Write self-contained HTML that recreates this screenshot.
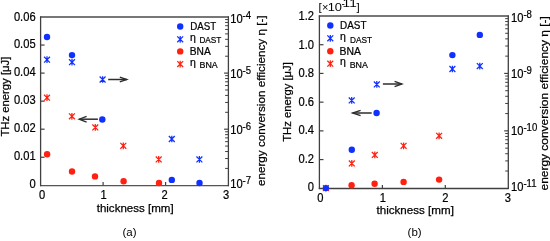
<!DOCTYPE html><html><head><meta charset="utf-8"><style>html,body{margin:0;padding:0;background:#fff;}svg{display:block;will-change:transform;}text{font-family:"Liberation Sans", sans-serif;fill:#000;} .t{stroke:#000;stroke-width:0.22px;}</style></head><body>
<svg width="550" height="241" viewBox="0 0 550 241">
<path d="M40.0,17.0L229.0,17.0" stroke="#4a4a4a" stroke-width="1.3"/>
<path d="M40.0,185.6L229.0,185.6" stroke="#555" stroke-width="1.3"/>
<path d="M40.6,16.4L40.6,186.2" stroke="#404040" stroke-width="1.3"/>
<path d="M228.4,16.4L228.4,186.2" stroke="#404040" stroke-width="1.3"/>
<text transform="translate(35.60,21.00) scale(0.93,1)" text-anchor="end" font-size="12.0" class="t">0.06</text>
<path d="M40.6,45.05L44.60,45.05" stroke="#404040" stroke-width="1.2"/>
<text transform="translate(35.60,48.00) scale(0.93,1)" text-anchor="end" font-size="12.0" class="t">0.05</text>
<path d="M40.6,73.10L44.60,73.10" stroke="#404040" stroke-width="1.2"/>
<text transform="translate(35.60,76.00) scale(0.93,1)" text-anchor="end" font-size="12.0" class="t">0.04</text>
<path d="M40.6,101.15L44.60,101.15" stroke="#404040" stroke-width="1.2"/>
<text transform="translate(35.60,104.00) scale(0.93,1)" text-anchor="end" font-size="12.0" class="t">0.03</text>
<path d="M40.6,129.20L44.60,129.20" stroke="#404040" stroke-width="1.2"/>
<text transform="translate(35.60,132.00) scale(0.93,1)" text-anchor="end" font-size="12.0" class="t">0.02</text>
<path d="M40.6,157.25L44.60,157.25" stroke="#404040" stroke-width="1.2"/>
<text transform="translate(35.60,160.00) scale(0.93,1)" text-anchor="end" font-size="12.0" class="t">0.01</text>
<text transform="translate(35.60,188.00) scale(0.93,1)" text-anchor="end" font-size="12.0" class="t">0</text>
<text transform="translate(42.20,199.00) scale(0.93,1)" text-anchor="middle" font-size="12.0" class="t">0</text>
<path d="M103.10,185.3L103.10,182.10" stroke="#404040" stroke-width="1.2"/>
<text transform="translate(103.50,199.00) scale(0.93,1)" text-anchor="middle" font-size="12.0" class="t">1</text>
<path d="M165.60,185.3L165.60,182.10" stroke="#404040" stroke-width="1.2"/>
<text transform="translate(164.50,199.00) scale(0.93,1)" text-anchor="middle" font-size="12.0" class="t">2</text>
<text transform="translate(226.15,199.00) scale(0.93,1)" text-anchor="middle" font-size="12.0" class="t">3</text>
<path d="M225.10,168.41L228.1,168.41" stroke="#404040" stroke-width="1.0"/>
<path d="M225.10,158.53L228.1,158.53" stroke="#404040" stroke-width="1.0"/>
<path d="M225.10,151.52L228.1,151.52" stroke="#404040" stroke-width="1.0"/>
<path d="M225.10,146.09L228.1,146.09" stroke="#404040" stroke-width="1.0"/>
<path d="M225.10,141.65L228.1,141.65" stroke="#404040" stroke-width="1.0"/>
<path d="M225.10,137.89L228.1,137.89" stroke="#404040" stroke-width="1.0"/>
<path d="M225.10,134.64L228.1,134.64" stroke="#404040" stroke-width="1.0"/>
<path d="M225.10,131.77L228.1,131.77" stroke="#404040" stroke-width="1.0"/>
<path d="M225.10,112.31L228.1,112.31" stroke="#404040" stroke-width="1.0"/>
<path d="M225.10,102.43L228.1,102.43" stroke="#404040" stroke-width="1.0"/>
<path d="M225.10,95.42L228.1,95.42" stroke="#404040" stroke-width="1.0"/>
<path d="M225.10,89.99L228.1,89.99" stroke="#404040" stroke-width="1.0"/>
<path d="M225.10,85.55L228.1,85.55" stroke="#404040" stroke-width="1.0"/>
<path d="M225.10,81.79L228.1,81.79" stroke="#404040" stroke-width="1.0"/>
<path d="M225.10,78.54L228.1,78.54" stroke="#404040" stroke-width="1.0"/>
<path d="M225.10,75.67L228.1,75.67" stroke="#404040" stroke-width="1.0"/>
<path d="M224.10,129.20L228.1,129.20" stroke="#404040" stroke-width="1.2"/>
<path d="M225.10,56.21L228.1,56.21" stroke="#404040" stroke-width="1.0"/>
<path d="M225.10,46.33L228.1,46.33" stroke="#404040" stroke-width="1.0"/>
<path d="M225.10,39.32L228.1,39.32" stroke="#404040" stroke-width="1.0"/>
<path d="M225.10,33.89L228.1,33.89" stroke="#404040" stroke-width="1.0"/>
<path d="M225.10,29.45L228.1,29.45" stroke="#404040" stroke-width="1.0"/>
<path d="M225.10,25.69L228.1,25.69" stroke="#404040" stroke-width="1.0"/>
<path d="M225.10,22.44L228.1,22.44" stroke="#404040" stroke-width="1.0"/>
<path d="M225.10,19.57L228.1,19.57" stroke="#404040" stroke-width="1.0"/>
<path d="M224.10,73.10L228.1,73.10" stroke="#404040" stroke-width="1.2"/>
<text transform="translate(230.20,23.00) scale(0.93,1)" font-size="12.0" class="t">10<tspan font-size="10.3" dy="-4.5">-4</tspan></text>
<text transform="translate(230.20,78.00) scale(0.93,1)" font-size="12.0" class="t">10<tspan font-size="10.3" dy="-4.5">-5</tspan></text>
<text transform="translate(230.20,134.00) scale(0.93,1)" font-size="12.0" class="t">10<tspan font-size="10.3" dy="-4.5">-6</tspan></text>
<text transform="translate(230.20,188.00) scale(0.93,1)" font-size="12.0" class="t">10<tspan font-size="10.3" dy="-4.5">-7</tspan></text>
<path d="M318.79999999999995,16.0L508.90000000000003,16.0" stroke="#4a4a4a" stroke-width="1.3"/>
<path d="M318.79999999999995,188.5L508.90000000000003,188.5" stroke="#404040" stroke-width="1.3"/>
<path d="M319.4,15.4L319.4,189.1" stroke="#404040" stroke-width="1.3"/>
<path d="M508.3,15.4L508.3,189.1" stroke="#404040" stroke-width="1.3"/>
<text transform="translate(314.00,20.00) scale(0.93,1)" text-anchor="end" font-size="12.0" class="t">1.2</text>
<path d="M319.5,44.72L323.50,44.72" stroke="#404040" stroke-width="1.2"/>
<text transform="translate(314.00,49.00) scale(0.93,1)" text-anchor="end" font-size="12.0" class="t">1.0</text>
<path d="M319.5,73.43L323.50,73.43" stroke="#404040" stroke-width="1.2"/>
<text transform="translate(314.00,77.00) scale(0.93,1)" text-anchor="end" font-size="12.0" class="t">0.8</text>
<path d="M319.5,102.15L323.50,102.15" stroke="#404040" stroke-width="1.2"/>
<text transform="translate(314.00,106.00) scale(0.93,1)" text-anchor="end" font-size="12.0" class="t">0.6</text>
<path d="M319.5,130.87L323.50,130.87" stroke="#404040" stroke-width="1.2"/>
<text transform="translate(314.00,134.00) scale(0.93,1)" text-anchor="end" font-size="12.0" class="t">0.4</text>
<path d="M319.5,159.58L323.50,159.58" stroke="#404040" stroke-width="1.2"/>
<text transform="translate(314.00,163.00) scale(0.93,1)" text-anchor="end" font-size="12.0" class="t">0.2</text>
<text transform="translate(314.00,191.00) scale(0.93,1)" text-anchor="end" font-size="12.0" class="t">0</text>
<text transform="translate(320.30,202.00) scale(0.93,1)" text-anchor="middle" font-size="12.0" class="t">0</text>
<path d="M382.40,188.3L382.40,185.10" stroke="#404040" stroke-width="1.2"/>
<text transform="translate(382.90,202.00) scale(0.93,1)" text-anchor="middle" font-size="12.0" class="t">1</text>
<path d="M445.30,188.3L445.30,185.10" stroke="#404040" stroke-width="1.2"/>
<text transform="translate(445.40,202.00) scale(0.93,1)" text-anchor="middle" font-size="12.0" class="t">2</text>
<text transform="translate(507.95,202.00) scale(0.93,1)" text-anchor="middle" font-size="12.0" class="t">3</text>
<path d="M505.20,171.01L508.2,171.01" stroke="#404040" stroke-width="1.0"/>
<path d="M505.20,160.90L508.2,160.90" stroke="#404040" stroke-width="1.0"/>
<path d="M505.20,153.72L508.2,153.72" stroke="#404040" stroke-width="1.0"/>
<path d="M505.20,148.16L508.2,148.16" stroke="#404040" stroke-width="1.0"/>
<path d="M505.20,143.61L508.2,143.61" stroke="#404040" stroke-width="1.0"/>
<path d="M505.20,139.76L508.2,139.76" stroke="#404040" stroke-width="1.0"/>
<path d="M505.20,136.43L508.2,136.43" stroke="#404040" stroke-width="1.0"/>
<path d="M505.20,133.49L508.2,133.49" stroke="#404040" stroke-width="1.0"/>
<path d="M505.20,113.58L508.2,113.58" stroke="#404040" stroke-width="1.0"/>
<path d="M505.20,103.46L508.2,103.46" stroke="#404040" stroke-width="1.0"/>
<path d="M505.20,96.29L508.2,96.29" stroke="#404040" stroke-width="1.0"/>
<path d="M505.20,90.72L508.2,90.72" stroke="#404040" stroke-width="1.0"/>
<path d="M505.20,86.17L508.2,86.17" stroke="#404040" stroke-width="1.0"/>
<path d="M505.20,82.33L508.2,82.33" stroke="#404040" stroke-width="1.0"/>
<path d="M505.20,79.00L508.2,79.00" stroke="#404040" stroke-width="1.0"/>
<path d="M505.20,76.06L508.2,76.06" stroke="#404040" stroke-width="1.0"/>
<path d="M504.20,130.87L508.2,130.87" stroke="#404040" stroke-width="1.2"/>
<path d="M505.20,56.14L508.2,56.14" stroke="#404040" stroke-width="1.0"/>
<path d="M505.20,46.03L508.2,46.03" stroke="#404040" stroke-width="1.0"/>
<path d="M505.20,38.86L508.2,38.86" stroke="#404040" stroke-width="1.0"/>
<path d="M505.20,33.29L508.2,33.29" stroke="#404040" stroke-width="1.0"/>
<path d="M505.20,28.74L508.2,28.74" stroke="#404040" stroke-width="1.0"/>
<path d="M505.20,24.90L508.2,24.90" stroke="#404040" stroke-width="1.0"/>
<path d="M505.20,21.57L508.2,21.57" stroke="#404040" stroke-width="1.0"/>
<path d="M505.20,18.63L508.2,18.63" stroke="#404040" stroke-width="1.0"/>
<path d="M504.20,73.43L508.2,73.43" stroke="#404040" stroke-width="1.2"/>
<text transform="translate(511.00,22.00) scale(0.93,1)" font-size="12.0" class="t">10<tspan font-size="10.3" dy="-4.5">-8</tspan></text>
<text transform="translate(511.00,78.00) scale(0.93,1)" font-size="12.0" class="t">10<tspan font-size="10.3" dy="-4.5">-9</tspan></text>
<text transform="translate(511.00,135.00) scale(0.93,1)" font-size="12.0" class="t">10<tspan font-size="10.3" dy="-4.5">-10</tspan></text>
<text transform="translate(511.00,191.00) scale(0.93,1)" font-size="12.0" class="t">10<tspan font-size="10.3" dy="-4.5">-11</tspan></text>
<path d="M44.05,56.75L49.95,62.65M49.95,56.75L44.05,62.65M47.00,56.35L47.00,63.05" stroke="#1030ff" stroke-width="1.25" fill="none"/>
<path d="M69.05,59.25L74.95,65.15M74.95,59.25L69.05,65.15M72.00,58.85L72.00,65.55" stroke="#1030ff" stroke-width="1.25" fill="none"/>
<path d="M99.65,76.55L105.55,82.45M105.55,76.55L99.65,82.45M102.60,76.15L102.60,82.85" stroke="#1030ff" stroke-width="1.25" fill="none"/>
<path d="M168.85,136.05L174.75,141.95M174.75,136.05L168.85,141.95M171.80,135.65L171.80,142.35" stroke="#1030ff" stroke-width="1.25" fill="none"/>
<path d="M196.45,156.45L202.35,162.35M202.35,156.45L196.45,162.35M199.40,156.05L199.40,162.75" stroke="#1030ff" stroke-width="1.25" fill="none"/>
<path d="M44.05,94.75L49.95,100.65M49.95,94.75L44.05,100.65M47.00,94.35L47.00,101.05" stroke="#ff2010" stroke-width="1.25" fill="none"/>
<path d="M68.95,113.35L74.85,119.25M74.85,113.35L68.95,119.25M71.90,112.95L71.90,119.65" stroke="#ff2010" stroke-width="1.25" fill="none"/>
<path d="M92.35,124.45L98.25,130.35M98.25,124.45L92.35,130.35M95.30,124.05L95.30,130.75" stroke="#ff2010" stroke-width="1.25" fill="none"/>
<path d="M120.35,142.85L126.25,148.75M126.25,142.85L120.35,148.75M123.30,142.45L123.30,149.15" stroke="#ff2010" stroke-width="1.25" fill="none"/>
<path d="M155.75,156.45L161.65,162.35M161.65,156.45L155.75,162.35M158.70,156.05L158.70,162.75" stroke="#ff2010" stroke-width="1.25" fill="none"/>
<circle cx="47.00" cy="37.00" r="3.2" fill="#1030ff"/>
<circle cx="72.00" cy="55.10" r="3.2" fill="#1030ff"/>
<circle cx="102.30" cy="119.50" r="3.2" fill="#1030ff"/>
<circle cx="171.80" cy="179.90" r="3.2" fill="#1030ff"/>
<circle cx="199.50" cy="183.00" r="3.2" fill="#1030ff"/>
<circle cx="47.10" cy="154.30" r="3.2" fill="#ff2010"/>
<circle cx="72.00" cy="171.50" r="3.2" fill="#ff2010"/>
<circle cx="95.00" cy="176.40" r="3.2" fill="#ff2010"/>
<circle cx="123.60" cy="181.30" r="3.2" fill="#ff2010"/>
<circle cx="159.00" cy="183.00" r="3.2" fill="#ff2010"/>
<path d="M108.20,79.50L126.80,79.50" stroke="#2e2e2e" stroke-width="1.5" fill="none"/><path d="M119.80,77.10L126.80,79.50L119.80,81.90" stroke="#2e2e2e" stroke-width="1.35" fill="none" stroke-linejoin="miter"/>
<path d="M97.90,119.20L79.20,119.20" stroke="#2e2e2e" stroke-width="1.5" fill="none"/><path d="M86.60,116.30L79.20,119.20L86.60,122.10" stroke="#2e2e2e" stroke-width="1.35" fill="none" stroke-linejoin="miter"/>
<path d="M348.75,97.45L354.65,103.35M354.65,97.45L348.75,103.35M351.70,97.05L351.70,103.75" stroke="#1030ff" stroke-width="1.25" fill="none"/>
<path d="M373.85,81.45L379.75,87.35M379.75,81.45L373.85,87.35M376.80,81.05L376.80,87.75" stroke="#1030ff" stroke-width="1.25" fill="none"/>
<path d="M449.45,66.05L455.35,71.95M455.35,66.05L449.45,71.95M452.40,65.65L452.40,72.35" stroke="#1030ff" stroke-width="1.25" fill="none"/>
<path d="M476.85,63.15L482.75,69.05M482.75,63.15L476.85,69.05M479.80,62.75L479.80,69.45" stroke="#1030ff" stroke-width="1.25" fill="none"/>
<path d="M322.95,185.15L328.85,191.05M328.85,185.15L322.95,191.05M325.90,184.75L325.90,191.45" stroke="#ff2010" stroke-width="1.25" fill="none"/>
<path d="M348.85,160.45L354.75,166.35M354.75,160.45L348.85,166.35M351.80,160.05L351.80,166.75" stroke="#ff2010" stroke-width="1.25" fill="none"/>
<path d="M371.85,151.95L377.75,157.85M377.75,151.95L371.85,157.85M374.80,151.55L374.80,158.25" stroke="#ff2010" stroke-width="1.25" fill="none"/>
<path d="M400.65,142.85L406.55,148.75M406.55,142.85L400.65,148.75M403.60,142.45L403.60,149.15" stroke="#ff2010" stroke-width="1.25" fill="none"/>
<path d="M436.15,132.85L442.05,138.75M442.05,132.85L436.15,138.75M439.10,132.45L439.10,139.15" stroke="#ff2010" stroke-width="1.25" fill="none"/>
<circle cx="351.60" cy="185.20" r="3.2" fill="#ff2010"/>
<circle cx="374.60" cy="183.70" r="3.2" fill="#ff2010"/>
<circle cx="403.60" cy="181.90" r="3.2" fill="#ff2010"/>
<circle cx="439.10" cy="179.60" r="3.2" fill="#ff2010"/>
<circle cx="325.90" cy="188.10" r="3.2" fill="#1030ff"/>
<circle cx="351.80" cy="149.70" r="3.2" fill="#1030ff"/>
<circle cx="376.60" cy="113.00" r="3.2" fill="#1030ff"/>
<circle cx="452.40" cy="55.10" r="3.2" fill="#1030ff"/>
<circle cx="479.80" cy="34.90" r="3.2" fill="#1030ff"/>
<path d="M382.90,84.00L401.90,84.00" stroke="#2e2e2e" stroke-width="1.5" fill="none"/><path d="M394.60,81.40L401.90,84.00L394.60,86.60" stroke="#2e2e2e" stroke-width="1.35" fill="none" stroke-linejoin="miter"/>
<path d="M371.70,113.00L352.60,113.00" stroke="#2e2e2e" stroke-width="1.5" fill="none"/><path d="M360.60,110.40L352.60,113.00L360.60,115.60" stroke="#2e2e2e" stroke-width="1.35" fill="none" stroke-linejoin="miter"/>
<circle cx="180.20" cy="26.50" r="3.2" fill="#1030ff"/>
<path d="M177.25,36.35L183.15,42.25M183.15,36.35L177.25,42.25M180.20,35.95L180.20,42.65" stroke="#1030ff" stroke-width="1.25" fill="none"/>
<circle cx="180.20" cy="51.40" r="3.2" fill="#ff2010"/>
<path d="M177.25,61.15L183.15,67.05M183.15,61.15L177.25,67.05M180.20,60.75L180.20,67.45" stroke="#ff2010" stroke-width="1.25" fill="none"/>
<circle cx="330.30" cy="25.50" r="3.2" fill="#1030ff"/>
<path d="M327.35,35.35L333.25,41.25M333.25,35.35L327.35,41.25M330.30,34.95L330.30,41.65" stroke="#1030ff" stroke-width="1.25" fill="none"/>
<circle cx="330.30" cy="51.20" r="3.2" fill="#ff2010"/>
<path d="M327.35,60.75L333.25,66.65M333.25,60.75L327.35,66.65M330.30,60.35L330.30,67.05" stroke="#ff2010" stroke-width="1.25" fill="none"/>
<text x="190.2" y="29.6" font-size="10" class="t" textLength="26" lengthAdjust="spacingAndGlyphs">DAST</text>
<text x="190.0" y="40.6" font-size="10.5" class="t">η</text><text x="199.4" y="43.1" font-size="9.3" class="t" textLength="22" lengthAdjust="spacingAndGlyphs">DAST</text>
<text x="189.8" y="54.8" font-size="10" class="t" textLength="21" lengthAdjust="spacingAndGlyphs">BNA</text>
<text x="190.0" y="65.6" font-size="10.5" class="t">η</text><text x="199.5" y="68.4" font-size="9.3" class="t" textLength="18.2" lengthAdjust="spacingAndGlyphs">BNA</text>
<text x="340.1" y="28.7" font-size="10" class="t" textLength="26.4" lengthAdjust="spacingAndGlyphs">DAST</text>
<text x="340.1" y="39.6" font-size="10.5" class="t">η</text><text x="350.0" y="42.6" font-size="9.3" class="t" textLength="22" lengthAdjust="spacingAndGlyphs">DAST</text>
<text x="339.6" y="55.0" font-size="10" class="t" textLength="21.4" lengthAdjust="spacingAndGlyphs">BNA</text>
<text x="340.1" y="65.2" font-size="10.5" class="t">η</text><text x="349.7" y="68.0" font-size="9.3" class="t" textLength="18.2" lengthAdjust="spacingAndGlyphs">BNA</text>
<text x="318.6" y="11.0" font-size="11.5">[</text>
<text x="322.0" y="10.6" font-size="11">×</text>
<text x="327.7" y="10.9" font-size="11.8" textLength="14.3" lengthAdjust="spacingAndGlyphs">10</text>
<text x="341.4" y="6.6" font-size="10">-</text>
<text x="342.6" y="6.7" font-size="10.3" textLength="14.2" lengthAdjust="spacingAndGlyphs">11</text>
<text x="356.6" y="11.0" font-size="11.5">]</text>
<text transform="translate(8.9,136.6) rotate(-90)" font-size="11.6" stroke="#000" stroke-width="0.25" textLength="79.9" lengthAdjust="spacingAndGlyphs">THz energy [μJ]</text>
<text transform="translate(291.3,141.8) rotate(-90)" font-size="11.6" stroke="#000" stroke-width="0.25" textLength="79.6" lengthAdjust="spacingAndGlyphs">THz energy [μJ]</text>
<text transform="translate(264.8,186.1) rotate(-90)" font-size="11.6" stroke="#000" stroke-width="0.25" textLength="170.7" lengthAdjust="spacingAndGlyphs">energy conversion efficiency η [-]</text>
<text transform="translate(547.5,190.5) rotate(-90)" font-size="11.6" stroke="#000" stroke-width="0.25" textLength="174.4" lengthAdjust="spacingAndGlyphs">energy conversion efficiency η [-]</text>
<text x="96.7" y="211.5" font-size="11.6" stroke="#000" stroke-width="0.25" textLength="76.9" lengthAdjust="spacingAndGlyphs">thickness [mm]</text>
<text x="376.5" y="213.8" font-size="11.6" stroke="#000" stroke-width="0.25" textLength="77.4" lengthAdjust="spacingAndGlyphs">thickness [mm]</text>
<text x="122.5" y="236.2" font-size="11.5">(a)</text>
<text x="407.6" y="236.2" font-size="11.5">(b)</text>
</svg></body></html>
